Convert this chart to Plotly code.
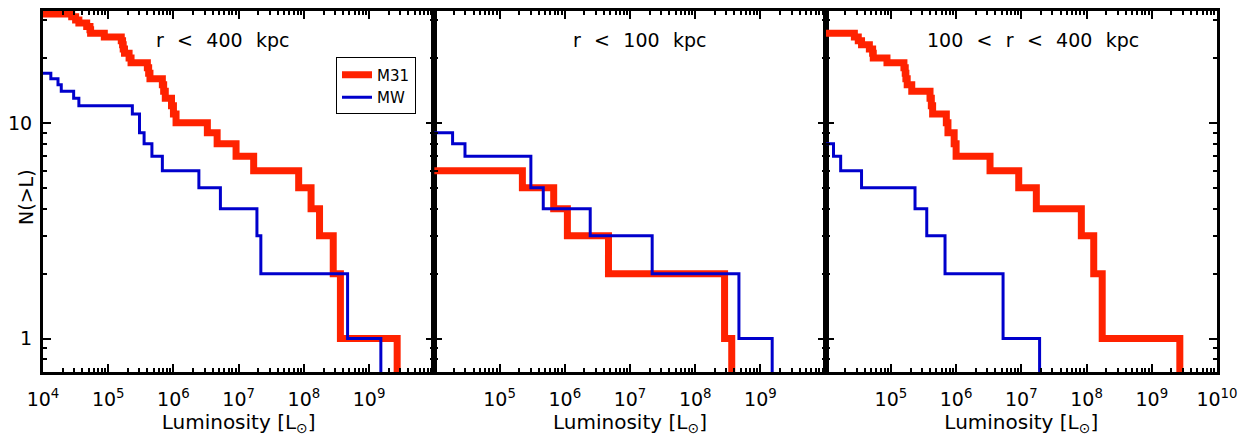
import numpy as np
import plotly.graph_objects as go
from plotly.subplots import make_subplots

# log10(L / L_sun) of the satellites, split by galactocentric distance
# inner: r < 100 kpc, outer: 100 < r < 400 kpc
m31_inner_logL = [5.35, 5.83, 6.04, 6.67, 8.45, 8.56]
m31_outer_logL = [4.44, 4.50, 4.55, 4.67, 4.72, 4.73, 4.94,
                  5.20, 5.22, 5.23, 5.25, 5.32,
                  5.60, 5.62, 5.64, 5.85, 5.875, 5.97, 6.00,
                  6.52, 6.96, 7.23, 7.92, 8.11, 8.24, 9.43]
mw_inner_logL = [4.28, 4.47, 5.48, 5.48, 5.67, 6.39, 7.34, 8.67, 9.18]
mw_outer_logL = [4.12, 4.23, 4.55, 5.37, 5.55, 5.83, 6.72, 7.28]

SP = "\u2002\u2009"
panel_labels = [f"r{SP}<{SP}400{SP}kpc",
                f"r{SP}<{SP}100{SP}kpc",
                f"100{SP}<{SP}r{SP}<{SP}400{SP}kpc"]
# labelled decades on each panel's luminosity axis
x_labelled = [[4, 5, 6, 7, 8, 9], [5, 6, 7, 8, 9], [5, 6, 7, 8, 9, 10]]
y_major = [1, 10]
y_minor = [0.7, 0.8, 0.9, 2, 3, 4, 5, 6, 7, 8, 9, 20, 30]

RED = "#ff2200"
BLUE = "#0000cc"
FONT = "DejaVu Sans"


def cumulative_steps(logL):
    """Step curve of N(>L): start at the total count, drop at each satellite."""
    L = np.sort(10.0 ** np.asarray(logL, dtype=float))
    n_above = np.array([(L > v).sum() for v in L], dtype=float)
    n_above[n_above == 0] = 0.1  # last drop runs off the bottom of the log axis
    x = np.concatenate([[1e3], L])
    y = np.concatenate([[float(len(L))], n_above])
    return x, y


samples = [
    (m31_inner_logL + m31_outer_logL, mw_inner_logL + mw_outer_logL),
    (m31_inner_logL, mw_inner_logL),
    (m31_outer_logL, mw_outer_logL),
]

fig = make_subplots(rows=1, cols=3, horizontal_spacing=0)

for i, (m31, mw) in enumerate(samples):
    col = i + 1
    x, y = cumulative_steps(m31)
    fig.add_trace(go.Scatter(x=x, y=y, mode="lines", line_shape="hv",
                             line=dict(color=RED, width=7), name="M31",
                             showlegend=(i == 0), legendrank=1),
                  row=1, col=col)
    x, y = cumulative_steps(mw)
    fig.add_trace(go.Scatter(x=x, y=y, mode="lines", line_shape="hv",
                             line=dict(color=BLUE, width=3), name="MW",
                             showlegend=(i == 0), legendrank=2),
                  row=1, col=col)

x_minor = [m * 10.0 ** e for e in range(4, 10) for m in range(2, 10)]

for i in range(3):
    col = i + 1
    exps = x_labelled[i]
    fig.update_xaxes(
        type="log", range=[4, 10],
        tickmode="array", tickvals=[10.0 ** e for e in exps],
        ticktext=[f"10<sup>{e}</sup>" for e in exps],
        ticks="inside", ticklen=8, tickwidth=2, tickcolor="black",
        showline=True, linewidth=3, linecolor="black", mirror="allticks",
        showgrid=False, zeroline=False,
        minor=dict(tickmode="array", tickvals=x_minor, ticks="inside",
                   ticklen=4, tickwidth=1.5, tickcolor="black", showgrid=False),
        tickfont=dict(family=FONT, size=19, color="black"),
        ticklabelstandoff=8,
        title=dict(text="Luminosity [L<sub>\u2299</sub>]",
                   font=dict(family=FONT, size=20, color="black"), standoff=7),
        row=1, col=col,
    )
    fig.update_yaxes(
        type="log", range=[np.log10(0.7), np.log10(33)],
        tickmode="array", tickvals=y_major, ticktext=[str(v) for v in y_major],
        showticklabels=(i == 0),
        ticks="inside", ticklen=8, tickwidth=2, tickcolor="black",
        showline=True, linewidth=3, linecolor="black", mirror="allticks",
        showgrid=False, zeroline=False,
        minor=dict(tickmode="array", tickvals=y_minor, ticks="inside",
                   ticklen=4, tickwidth=1.5, tickcolor="black", showgrid=False),
        tickfont=dict(family=FONT, size=19, color="black"),
        ticklabelstandoff=4,
        row=1, col=col,
    )

W, H = 1246, 439
ML, MR, MT, MB = 39, 29, 8, 66
pw, ph = W - ML - MR, H - MT - MB


def px_x(p):
    return (p - ML) / pw


def px_y(p):
    return 1 - (p - MT) / ph


label_left = [150, 569, 924]
for i, text in enumerate(panel_labels):
    fig.add_annotation(text=text, xref="paper", yref="paper",
                       x=px_x(label_left[i]), y=px_y(37),
                       xanchor="left", yanchor="middle", showarrow=False,
                       font=dict(family=FONT, size=19, color="black"))

fig.add_annotation(text="N(>L)", xref="paper", yref="paper",
                   x=px_x(22), y=px_y(196), textangle=-90,
                   xanchor="center", yanchor="middle", showarrow=False,
                   font=dict(family=FONT, size=19, color="black"))

fig.update_layout(
    width=W, height=H,
    margin=dict(l=ML, r=MR, t=MT, b=MB),
    paper_bgcolor="white", plot_bgcolor="white",
    font=dict(family=FONT, color="black"),
    legend=dict(x=px_x(333), y=px_y(55), xanchor="left", yanchor="top",
                bordercolor="black", borderwidth=1, bgcolor="white",
                font=dict(family=FONT, size=15, color="black"),
                tracegroupgap=0),
)

fig.write_html("out.html")
